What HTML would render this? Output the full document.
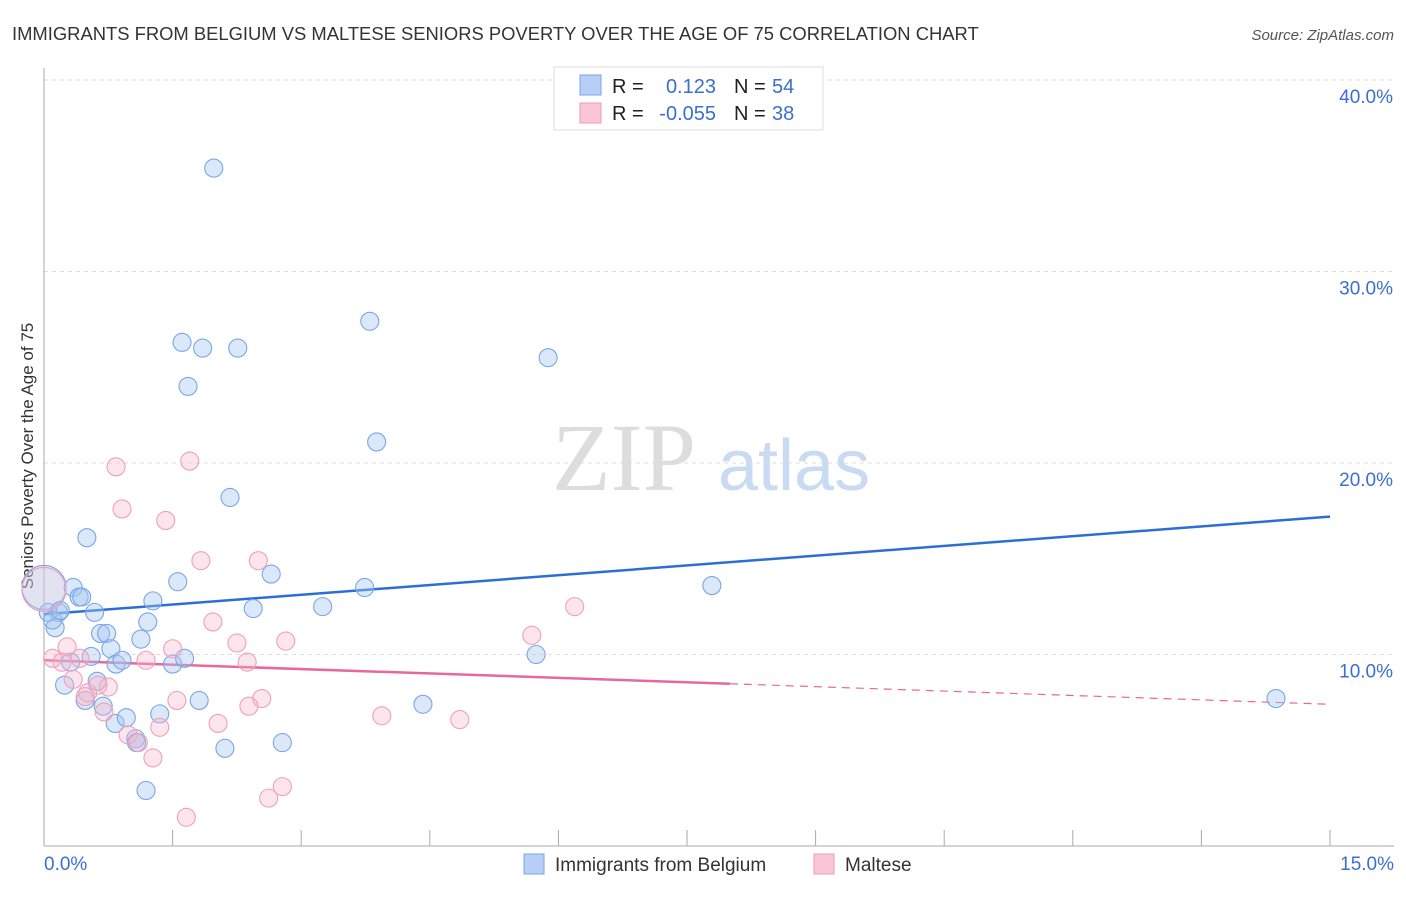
<!DOCTYPE html>
<html><head><meta charset="utf-8"><style>
body{margin:0;background:#fff;font-family:"Liberation Sans",sans-serif}
svg text{font-family:"Liberation Sans",sans-serif}
</style></head><body>
<svg id="chart" width="1406" height="892">
<text x="12" y="40" font-size="18.4" fill="#333">IMMIGRANTS FROM BELGIUM VS MALTESE SENIORS POVERTY OVER THE AGE OF 75 CORRELATION CHART</text>
<text x="1394" y="40" font-size="15" fill="#555" font-style="italic" text-anchor="end">Source: ZipAtlas.com</text>
<text transform="translate(33,456) rotate(-90)" font-size="17" fill="#333" text-anchor="middle">Seniors Poverty Over the Age of 75</text>
<g><text x="552" y="490" font-size="96" fill="#ddd" font-family="Liberation Serif" style="font-family:'Liberation Serif',serif">ZIP</text><text x="718" y="490" font-size="72" fill="#c9daf3">atlas</text></g>
<g id="grid"></g><g id="axes"></g><g id="lines"></g><g id="pts"></g>
<g>
<rect x="554" y="67" width="269" height="63" fill="#fff" stroke="#ddd"/>
<rect x="580" y="75" width="21" height="20" fill="#b5cff5" stroke="#7aa6e6"/>
<rect x="580" y="103" width="21" height="20" fill="#fac6d6" stroke="#ee9bb6"/>
<text x="612" y="93" font-size="20" fill="#222">R = </text><text x="716" y="93" font-size="20" fill="#3a6fd0" text-anchor="end">0.123</text>
<text x="734" y="93" font-size="20" fill="#222">N = </text><text x="772" y="93" font-size="20" fill="#3a6fd0">54</text>
<text x="612" y="120" font-size="20" fill="#222">R = </text><text x="716" y="120" font-size="20" fill="#3a6fd0" text-anchor="end">-0.055</text>
<text x="734" y="120" font-size="20" fill="#222">N = </text><text x="772" y="120" font-size="20" fill="#3a6fd0">38</text>
</g>
<g>
<rect x="524" y="854" width="20" height="20" fill="#b5cff5" stroke="#7aa6e6"/>
<text x="555" y="871" font-size="19" fill="#333">Immigrants from Belgium</text>
<rect x="814" y="854" width="20" height="20" fill="#fac6d6" stroke="#ee9bb6"/>
<text x="845" y="871" font-size="19" fill="#333">Maltese</text>
</g>
</svg>
<script>
const yTicks=[10,20,30,40];
const xTickLabels=["0.0%","15.0%"];
const blueX=[0.0,0.34,0.41,0.44,1.56,2.65,1.27,0.59,0.17,0.05,0.13,1.21,0.66,0.73,1.13,0.78,0.55,0.31,0.84,0.91,1.50,1.64,2.44,0.24,0.62,0.48,0.69,0.83,0.96,1.35,1.81,1.07,1.08,2.11,2.78,1.19,1.98,1.61,1.85,2.26,3.80,1.68,5.88,3.88,2.17,0.50,3.25,3.74,7.79,5.74,4.42,14.37,0.10,0.19];
const blueY=[13.5,13.5,13.0,13.0,13.8,14.2,12.8,12.2,12.2,12.2,11.4,11.7,11.1,11.1,10.8,10.3,9.9,9.6,9.5,9.7,9.5,9.8,12.4,8.4,8.6,7.6,7.3,6.4,6.7,6.9,7.6,5.6,5.4,5.1,5.4,2.9,35.4,26.3,26.0,26.0,27.4,24.0,25.5,21.1,18.2,16.1,12.5,13.5,13.6,10.0,7.4,7.7,11.8,12.3];
const pinkX=[0.0,1.83,2.50,1.97,2.25,2.82,1.50,2.37,1.19,0.27,0.10,0.21,0.42,0.34,0.75,0.51,0.63,0.70,1.55,2.54,2.39,1.35,2.03,0.98,1.10,1.27,2.78,2.62,1.66,0.84,1.70,0.91,1.42,6.19,5.69,3.94,4.85,0.48];
const pinkY=[13.4,14.9,14.9,11.7,10.6,10.7,10.3,9.6,9.7,10.4,9.8,9.6,9.8,8.7,8.3,8.0,8.4,7.0,7.6,7.7,7.3,6.2,6.4,5.8,5.4,4.6,3.1,2.5,1.5,19.8,20.1,17.6,17.0,12.5,11.0,6.8,6.6,7.8];
const blueTrend=[12.1,17.2];
const pinkTrend=[9.7,7.4];
const pinkSolidEnd=8.0;
const NS="http://www.w3.org/2000/svg";
const X=v=>44+v/15*1286, Y=v=>846-v*19.15;
function mk(p,tag,a){const e=document.createElementNS(NS,tag);for(const k in a)e.setAttribute(k,a[k]);document.getElementById(p).appendChild(e);return e;}
yTicks.forEach(t=>{
 const l=mk('grid','line',{x1:44,x2:1394,y1:Y(t),y2:Y(t),stroke:'#ddd','stroke-dasharray':'4,4'});
 
 
 const tx=mk('grid','text',{x:1393,y:Y(t)+23,'font-size':19,fill:'#3a6fd0','text-anchor':'end'});tx.textContent=t.toFixed(1)+'%';
 
 
});
mk('axes','line',{x1:44,x2:44,y1:68,y2:846,stroke:'#aaa'});
mk('axes','line',{x1:44,x2:1394,y1:846,y2:846,stroke:'#aaa'});
for(let i=0;i<=10;i++){const t=mk('axes','line',{x1:X(i*1.5),x2:X(i*1.5),y1:830,y2:846,stroke:'#aaa'});
 
 }
const xl0=mk('axes','text',{x:44,y:870,'font-size':19,fill:'#3a6fd0'});xl0.textContent=xTickLabels[0];


const xl1=mk('axes','text',{x:1394,y:870,'font-size':19,fill:'#3a6fd0','text-anchor':'end'});xl1.textContent=xTickLabels[1];


function pt(xs,ys,fill,stroke,name){xs.forEach((x,i)=>{const c=mk('pts','circle',{cx:X(x),cy:Y(ys[i]),r:(i==0?22:9),fill:(i==0?'rgba(200,200,230,0.3)':fill),stroke:stroke,'stroke-width':1.1});
 
 });}
pt(blueX,blueY,'rgba(165,198,240,0.4)','#7aa6e6','belgium-point');
pt(pinkX,pinkY,'rgba(246,180,200,0.35)','#eea0bb','maltese-point');
const bl=mk('lines','line',{x1:X(0),y1:Y(blueTrend[0]),x2:X(15),y2:Y(blueTrend[1]),stroke:'#2b6fd6','stroke-width':2.5});


const pm=pinkTrend[0]+(pinkTrend[1]-pinkTrend[0])*pinkSolidEnd/15;
const pl=mk('lines','line',{x1:X(0),y1:Y(pinkTrend[0]),x2:X(pinkSolidEnd),y2:Y(pm),stroke:'#e8689a','stroke-width':2.5});


const pd=mk('lines','line',{x1:X(pinkSolidEnd),y1:Y(pm),x2:X(15),y2:Y(pinkTrend[1]),stroke:'#e8689a','stroke-width':1.2,'stroke-dasharray':'8,6'});


</script>
</body></html>
